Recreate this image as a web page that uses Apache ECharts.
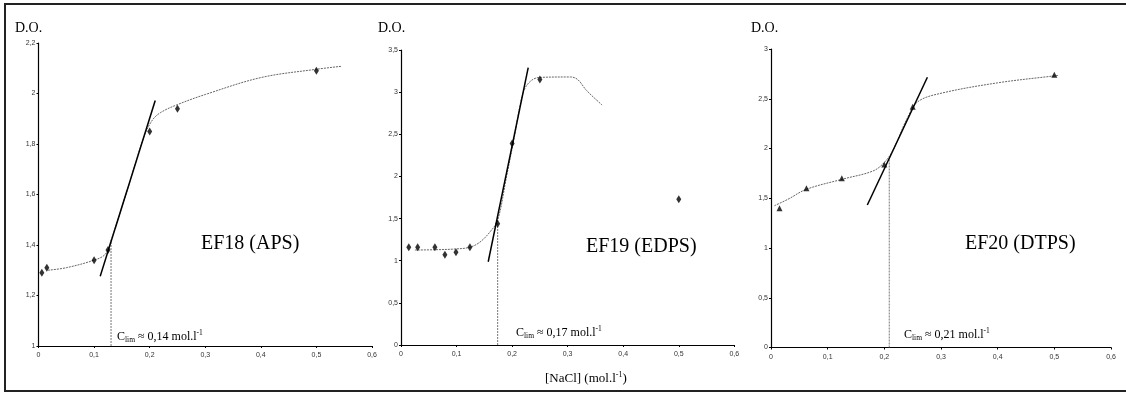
<!DOCTYPE html>
<html><head><meta charset="utf-8">
<script src="https://cdn.jsdelivr.net/npm/echarts/dist/echarts.min.js"></script>
<style>html,body{margin:0;padding:0;background:#fff}#c{width:1126px;height:393px}</style>
</head><body><div id="c"></div>
<script>
// ---- tick labels ----
const xTicks = ['0','0,1','0,2','0,3','0,4','0,5','0,6'];
const yTicks1 = ['1','1,2','1,4','1,6','1,8','2','2,2'];
const yTicks2 = ['0','0,5','1','1,5','2','2,5','3','3,5'];
const yTicks3 = ['0','0,5','1','1,5','2','2,5','3'];

// ---- EF18 (APS) ----
const pts1 = [[0.006,1.29],[0.015,1.31],[0.1,1.34],[0.125,1.38],[0.2,1.85],[0.25,1.94],[0.5,2.09]];
const fit1 = [[0.017,1.30],[0.05,1.31],[0.1,1.34],[0.12,1.363],[0.13,1.415],[0.16,1.62],[0.19,1.83],[0.205,1.895],[0.22,1.925],[0.25,1.956],[0.3,1.996],[0.4,2.063],[0.5,2.096],[0.546,2.108]];
const tan1 = [[0.111,1.276],[0.21,1.972]];
const clim1 = [[0.1305,1],[0.1305,1.42]];

// ---- EF19 (EDPS) ----
const pts2 = [[0.014,1.16],[0.03,1.16],[0.061,1.16],[0.079,1.07],[0.099,1.10],[0.124,1.16],[0.174,1.44],[0.2,2.39],[0.25,3.15],[0.5,1.73]];
const fit2 = [[0.025,1.127],[0.06,1.13],[0.1,1.14],[0.124,1.16],[0.142,1.22],[0.16,1.34],[0.174,1.48],[0.19,2.0],[0.205,2.5],[0.213,2.8],[0.222,3.03],[0.235,3.14],[0.25,3.175],[0.305,3.18],[0.318,3.15],[0.334,3.02],[0.362,2.847]];
const tan2 = [[0.157,0.988],[0.229,3.29]];
const clim2 = [[0.174,0],[0.174,1.5]];

// ---- EF20 (DTPS) ----
const pts3 = [[0.015,1.40],[0.0625,1.60],[0.125,1.70],[0.2,1.84],[0.25,2.42],[0.5,2.74]];
const fit3 = [[0.006,1.425],[0.03,1.49],[0.0625,1.59],[0.125,1.69],[0.18,1.774],[0.2,1.86],[0.215,1.98],[0.24,2.3],[0.259,2.47],[0.3,2.555],[0.4,2.66],[0.5,2.73],[0.507,2.735]];
const tan3 = [[0.17,1.432],[0.276,2.716]];
const clim3 = [[0.2087,0],[0.2087,1.90]];

const serif = '"Liberation Serif","Times New Roman",serif';
const sans = '"Liberation Sans",Arial,sans-serif';

const chart = echarts.init(document.getElementById('c'), null, {renderer:'canvas'});

function xAxis(gi){
  return {type:'value', gridIndex:gi, min:0, max:0.6, interval:0.1,
    axisLine:{lineStyle:{color:'#000', width:1.2}},
    axisTick:{length:2, lineStyle:{color:'#000'}},
    splitLine:{show:false},
    axisLabel:{fontSize:7, fontFamily:sans, color:'#333', margin:6,
      formatter:v=>xTicks[Math.round(v/0.1)]}};
}
function yAxis(gi, min, max, interval, labels){
  return {type:'value', gridIndex:gi, min:min, max:max, interval:interval,
    axisLine:{show:true, lineStyle:{color:'#000', width:1.2}},
    axisTick:{show:true, length:2, lineStyle:{color:'#000'}},
    splitLine:{show:false},
    axisLabel:{fontSize:7, fontFamily:sans, color:'#333', margin:3,
      formatter:v=>labels[Math.round((v-min)/interval)]}};
}
function series(gi, pts, fit, tan, clim, symbol, symSize){
  return [
    {type:'line', xAxisIndex:gi, yAxisIndex:gi, data:fit, smooth:0.35, showSymbol:false,
      lineStyle:{color:'#666', width:1, type:[2,1]}, z:2, silent:true},
    {type:'line', xAxisIndex:gi, yAxisIndex:gi, data:tan, showSymbol:false,
      lineStyle:{color:'#000', width:1.5}, z:3, silent:true},
    {type:'line', xAxisIndex:gi, yAxisIndex:gi, data:clim, showSymbol:false,
      lineStyle:{color:'#777', width:1, type:[2,1]}, z:2, silent:true},
    {type:'scatter', xAxisIndex:gi, yAxisIndex:gi, data:pts, symbol:symbol, symbolSize:symSize,
      itemStyle:{color:'#000'}, z:4, silent:true}
  ];
}
function climText(x, y, val){
  return {type:'text', left:x, top:y, style:{
    text:'{c|C}{s|lim}{c| ≈ '+val+' mol.l}{p|-1}',
    rich:{
      c:{fontFamily:serif, fontSize:12, fill:'#000', lineHeight:15, verticalAlign:'middle'},
      s:{fontFamily:serif, fontSize:7.5, fill:'#000', lineHeight:15, verticalAlign:'bottom'},
      p:{fontFamily:serif, fontSize:7.5, fill:'#000', lineHeight:15, verticalAlign:'top'}
    }}};
}
function txt(x, y, t, size){
  return {type:'text', left:x, top:y, style:{text:t, fontFamily:serif, fontSize:size, fill:'#000'}};
}

const option = {
  animation:false,
  backgroundColor:'#fff',
  grid:[
    {left:38.5, top:43, width:333.5, height:303, outerBoundsMode:'none'},
    {left:401, top:50, width:333.3, height:295, outerBoundsMode:'none'},
    {left:771, top:49, width:340, height:298.5, outerBoundsMode:'none'}
  ],
  xAxis:[xAxis(0), xAxis(1), xAxis(2)],
  yAxis:[yAxis(0,1,2.2,0.2,yTicks1), yAxis(1,0,3.5,0.5,yTicks2), yAxis(2,0,3,0.5,yTicks3)],
  series:[
    ...series(0, pts1, fit1, tan1, clim1, 'diamond', [5,8]),
    ...series(1, pts2, fit2, tan2, clim2, 'diamond', [5,8]),
    ...series(2, pts3, fit3, tan3, clim3, 'triangle', [6,6])
  ],
  graphic:[
    {type:'polyline', shape:{points:[[1140,4],[5,4],[5,391],[1140,391]]},
      style:{stroke:'#222', lineWidth:2, fill:null}, silent:true},
    txt(15, 21, 'D.O.', 14),
    txt(378, 21, 'D.O.', 14),
    txt(751, 21, 'D.O.', 14),
    txt(201, 234, 'EF18 (APS)', 20),
    txt(586, 237, 'EF19 (EDPS)', 20),
    txt(965, 234, 'EF20 (DTPS)', 20),
    climText(117, 329, '0,14'),
    climText(516, 325, '0,17'),
    climText(904, 327, '0,21'),
    {type:'text', left:545, top:371, style:{
      text:'{a|[NaCl] (mol.l}{p|-1}{a|)}',
      rich:{a:{fontFamily:serif, fontSize:13, fill:'#000', lineHeight:16},
            p:{fontFamily:serif, fontSize:8, fill:'#000', lineHeight:16, verticalAlign:'top'}}}}
  ]
};
chart.setOption(option);
</script>
</body></html>
